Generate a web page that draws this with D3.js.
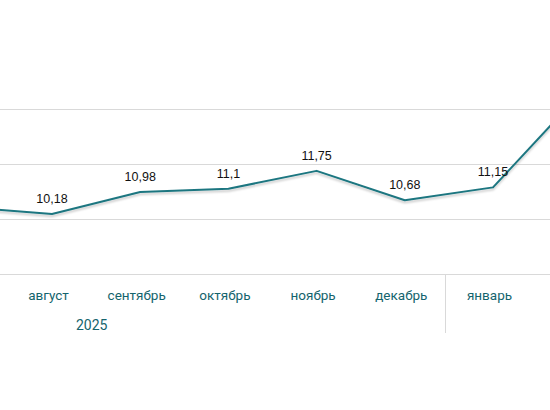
<!DOCTYPE html>
<html>
<head>
<meta charset="utf-8">
<script src="https://cdn.jsdelivr.net/npm/d3@7"></script>
<style>
  body { margin: 0; background: #fff; }
  .grid line { stroke: #d9d9d9; stroke-width: 1; }
  .month { font-family: Roboto, "Noto Sans", sans-serif; font-size: 13.5px; fill: #14646d; }
  .val { font-family: "Liberation Sans", Arial, sans-serif; font-size: 12.5px; fill: #111; }
</style>
</head>
<body>
<div id="chart"></div>
<script>
// months (first and last sit outside the visible window)
var months = ["июль", "август", "сентябрь", "октябрь", "ноябрь", "декабрь", "январь", "февраль"];
var values = [10.43, 10.18, 10.98, 11.1, 11.75, 10.68, 11.15, 14.6];
var shownLabels = [false, true, true, true, true, true, true, false];
var gridTicks = [8, 10, 12, 14];
var yearLabel = "2025";

var width = 550,
  height = 410,
  step = 88.2,
  firstX = 52 - step;

var svg = d3.select("#chart").append("svg")
  .attr("width", width)
  .attr("height", height);

var defs = svg.append("defs");
defs.append("filter")
  .attr("id", "shadow")
  .attr("x", "-10%").attr("y", "-10%")
  .attr("width", "120%").attr("height", "140%")
  .append("feDropShadow")
  .attr("dx", 0).attr("dy", 2)
  .attr("stdDeviation", 1.3)
  .attr("flood-color", "#000")
  .attr("flood-opacity", 0.22);

var x = d3.scalePoint()
  .domain(months)
  .range([firstX, firstX + step * (months.length - 1)]);

var y = d3.scaleLinear()
  .domain([8, 16])
  .range([274, 54]);

// gridlines
svg.append("g")
  .attr("class", "grid")
  .selectAll("line")
  .data(gridTicks)
  .enter().append("line")
  .attr("x1", 0)
  .attr("x2", width)
  .attr("y1", function(d) { return Math.round(y(d)) + 0.5; })
  .attr("y2", function(d) { return Math.round(y(d)) + 0.5; });

// separator between years
var sepX = Math.round((x("декабрь") + x("январь")) / 2 - 4) + 0.5;
svg.append("line")
  .attr("x1", sepX).attr("x2", sepX)
  .attr("y1", y(8)).attr("y2", 333)
  .attr("stroke", "#d9d9d9")
  .attr("stroke-width", 1);

// month labels
svg.append("g")
  .selectAll("text")
  .data(months.filter(function(d, i) { return shownLabels[i]; }))
  .enter().append("text")
  .attr("class", "month")
  .attr("x", function(d) { return x(d) - 3.5; })
  .attr("y", 300)
  .attr("text-anchor", "middle")
  .text(function(d) { return d; });

svg.append("text")
  .attr("class", "month")
  .attr("x", x("август") + step * 0.45)
  .attr("y", 330)
  .attr("text-anchor", "middle")
  .style("font-size", "14px")
  .text(yearLabel);

// the line
var line = d3.line()
  .x(function(d, i) { return x(months[i]); })
  .y(function(d) { return y(d); });

svg.append("path")
  .datum(values)
  .attr("d", line)
  .attr("fill", "none")
  .attr("stroke", "#1c7680")
  .attr("stroke-width", 2)
  .attr("stroke-linejoin", "round")
  .attr("filter", "url(#shadow)");

// value labels
var fmt = function(v) { return String(v).replace(".", ","); };
svg.append("g")
  .selectAll("text")
  .data(values)
  .enter().append("text")
  .attr("class", "val")
  .attr("x", function(d, i) { return x(months[i]); })
  .attr("y", function(d) { return y(d) - 11; })
  .attr("text-anchor", "middle")
  .text(function(d, i) { return shownLabels[i] ? fmt(d) : ""; });
</script>
</body>
</html>
